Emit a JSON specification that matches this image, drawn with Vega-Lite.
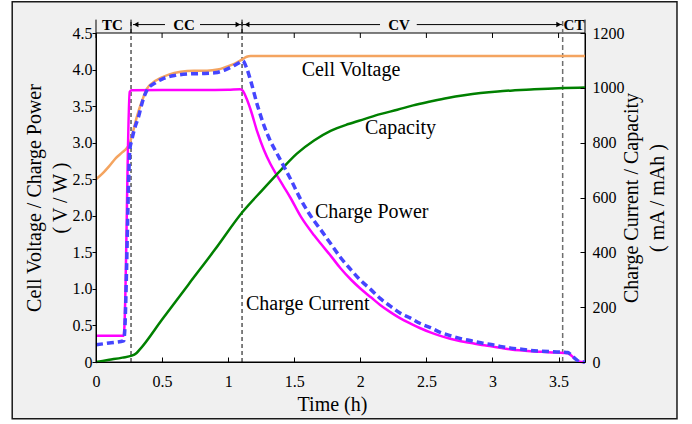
{
"$schema": "https://vega.github.io/schema/vega-lite/v6.json",
"width": 489, "height": 329,
"autosize": "none",
"padding": {"left": 96, "top": 33, "right": 107, "bottom": 62},
"background": "#ffffff",
"config": {
 "view": {"stroke": null},
 "font": "Liberation Serif",
 "axis": {"labelOverlap": false, "labelFont": "Liberation Serif", "titleFont": "Liberation Serif"},
 "style": {"guide-label": {"font": "Liberation Serif"}, "guide-title": {"font": "Liberation Serif"}}
},
"datasets": {
 "voltage": [
  {"t":0,"v":2.50},{"t":0.05,"v":2.58},{"t":0.10,"v":2.68},{"t":0.15,"v":2.79},{"t":0.20,"v":2.87},{"t":0.235,"v":2.93},{"t":0.255,"v":2.99},{"t":0.27,"v":3.08},{"t":0.29,"v":3.22},{"t":0.31,"v":3.36},{"t":0.35,"v":3.58},{"t":0.386,"v":3.74},{"t":0.43,"v":3.82},{"t":0.49,"v":3.885},{"t":0.55,"v":3.93},{"t":0.64,"v":3.97},{"t":0.74,"v":3.985},{"t":0.84,"v":3.985},{"t":0.92,"v":4.0},{"t":0.99,"v":4.04},{"t":1.05,"v":4.08},{"t":1.106,"v":4.14},{"t":1.14,"v":4.175},{"t":1.17,"v":4.185},{"t":2.0,"v":4.185},{"t":3.7,"v":4.185}
 ],
 "power": [
  {"t":0,"v":0.235},{"t":0.1,"v":0.26},{"t":0.21,"v":0.29},{"t":0.215,"v":0.36},{"t":0.257,"v":2.92},{"t":0.27,"v":3.03},{"t":0.29,"v":3.18},{"t":0.323,"v":3.36},{"t":0.35,"v":3.55},{"t":0.386,"v":3.72},{"t":0.45,"v":3.82},{"t":0.5,"v":3.87},{"t":0.6,"v":3.92},{"t":0.7,"v":3.94},{"t":0.8,"v":3.945},{"t":0.9,"v":3.955},{"t":0.97,"v":3.99},{"t":1.03,"v":4.04},{"t":1.08,"v":4.09},{"t":1.11,"v":4.12},{"t":1.14,"v":4.02},{"t":1.17,"v":3.85},{"t":1.22,"v":3.52},{"t":1.27,"v":3.24},{"t":1.32,"v":3.02},{"t":1.37,"v":2.85},{"t":1.42,"v":2.68},{"t":1.47,"v":2.51},{"t":1.55,"v":2.22},{"t":1.65,"v":1.93},{"t":1.70,"v":1.81},{"t":1.775,"v":1.62},{"t":1.85,"v":1.43},{"t":1.93,"v":1.26},{"t":2.0,"v":1.12},{"t":2.08,"v":0.99},{"t":2.15,"v":0.87},{"t":2.23,"v":0.76},{"t":2.3,"v":0.67},{"t":2.38,"v":0.60},{"t":2.45,"v":0.53},{"t":2.53,"v":0.47},{"t":2.6,"v":0.41},{"t":2.68,"v":0.36},{"t":2.76,"v":0.32},{"t":2.84,"v":0.29},{"t":2.92,"v":0.26},{"t":2.99,"v":0.24},{"t":3.07,"v":0.21},{"t":3.14,"v":0.19},{"t":3.22,"v":0.175},{"t":3.29,"v":0.158},{"t":3.37,"v":0.148},{"t":3.45,"v":0.14},{"t":3.54,"v":0.135},{"t":3.57,"v":0.13},{"t":3.6,"v":0.09},{"t":3.63,"v":0.04},{"t":3.66,"v":0.005},{"t":3.7,"v":0}
 ],
 "current": [
  {"t":0,"v":96},{"t":0.21,"v":96},{"t":0.215,"v":130},{"t":0.255,"v":985},{"t":0.27,"v":991},{"t":0.5,"v":992},{"t":0.8,"v":992},{"t":1.0,"v":993},{"t":1.09,"v":995},{"t":1.11,"v":990},{"t":1.14,"v":960},{"t":1.17,"v":920},{"t":1.22,"v":840},{"t":1.27,"v":774},{"t":1.32,"v":722},{"t":1.37,"v":680},{"t":1.42,"v":640},{"t":1.47,"v":600},{"t":1.55,"v":530},{"t":1.65,"v":462},{"t":1.70,"v":432},{"t":1.775,"v":388},{"t":1.85,"v":342},{"t":1.93,"v":300},{"t":2.0,"v":268},{"t":2.08,"v":236},{"t":2.15,"v":208},{"t":2.23,"v":181},{"t":2.3,"v":160},{"t":2.38,"v":140},{"t":2.45,"v":124},{"t":2.53,"v":108},{"t":2.6,"v":96},{"t":2.68,"v":85},{"t":2.76,"v":76},{"t":2.84,"v":69},{"t":2.92,"v":62},{"t":2.99,"v":57},{"t":3.07,"v":51},{"t":3.14,"v":46},{"t":3.22,"v":42},{"t":3.29,"v":39},{"t":3.37,"v":37},{"t":3.45,"v":35},{"t":3.54,"v":33},{"t":3.57,"v":32},{"t":3.6,"v":22},{"t":3.63,"v":10},{"t":3.66,"v":1},{"t":3.7,"v":0}
 ],
 "capacity": [
  {"t":0,"v":0},{"t":0.1,"v":8},{"t":0.2,"v":16},{"t":0.27,"v":23},{"t":0.3,"v":30},{"t":0.33,"v":45},{"t":0.5,"v":155},{"t":0.7,"v":283},{"t":0.9,"v":410},{"t":1.11,"v":548},{"t":1.26,"v":628},{"t":1.4,"v":701},{"t":1.52,"v":760},{"t":1.65,"v":808},{"t":1.775,"v":843},{"t":1.91,"v":868},{"t":2.03,"v":886},{"t":2.15,"v":904},{"t":2.28,"v":920},{"t":2.4,"v":936},{"t":2.53,"v":950},{"t":2.66,"v":963},{"t":2.785,"v":973},{"t":2.91,"v":981},{"t":3.04,"v":987},{"t":3.17,"v":991},{"t":3.29,"v":994},{"t":3.42,"v":997},{"t":3.54,"v":999},{"t":3.7,"v":1001}
 ],
 "boundaries": [{"t":0},{"t":0.265},{"t":1.105},{"t":3.7}],
 "topticks": [{"t":0},{"t":0.5},{"t":1},{"t":1.5},{"t":2},{"t":2.5},{"t":3},{"t":3.5}],
 "phases": [{"phase":"TC","t":0.125},{"phase":"CC","t":0.666},{"phase":"CV","t":2.293},{"phase":"CT","t":3.617}],
 "labels": [
  {"label":"Cell Voltage","t":1.556,"v":3.917},
  {"label":"Capacity","t":2.035,"v":3.123},
  {"label":"Charge Power","t":1.657,"v":1.97},
  {"label":"Charge Current","t":1.135,"v":0.715}
 ]
},
"resolve": {"scale": {"y": "independent"}},
"layer": [
 {"layer": [
  {"data": {"values": [{}]},
   "mark": {"type": "rect", "fill": "#f0f0f0", "stroke": "#1a1a1a", "strokeWidth": 1.5},
   "encoding": {
    "x": {"datum": -0.634, "type": "quantitative", "scale": {"domain": [0, 3.7], "nice": false, "zero": false},
      "axis": {"zindex": 2, "orient": "bottom", "grid": false, "values": [0,0.5,1,1.5,2,2.5,3,3.5], "format": "~g", "labelOverlap": false, "labelFlush": false, "labelFont": "Liberation Serif", "labelFontSize": 16, "labelColor": "#000", "tickColor": "#000", "domainColor": "#000", "tickSize": -5, "labelPadding": 16, "title": "Time (h)", "titleFont": "Liberation Serif", "titleFontSize": 20, "titleFontWeight": "normal", "titleColor": "#000", "titleX": 236, "titleY": 48, "titleBaseline": "alphabetic", "titleAlign": "center"}},
    "x2": {"datum": 4.396},
    "y": {"datum": -0.776, "type": "quantitative", "scale": {"domain": [0, 4.5], "nice": false, "zero": false}},
    "y2": {"datum": 4.929}
   }},
  {"data": {"values": [{}]},
   "mark": {"type": "rect", "fill": "#ffffff", "stroke": "#000", "strokeWidth": 1},
   "encoding": {"x": {"datum": 0, "type": "quantitative"}, "x2": {"datum": 3.7}, "y": {"datum": 0, "type": "quantitative"}, "y2": {"datum": 4.5}}},
  {"data": {"name": "topticks"},
   "mark": {"type": "rule", "color": "#000", "strokeWidth": 1},
   "encoding": {"x": {"field": "t", "type": "quantitative"}, "y": {"datum": 4.5, "type": "quantitative"}, "y2": {"datum": 4.432}}},
  {"data": {"name": "boundaries"},
   "mark": {"type": "rule", "color": "#000", "strokeWidth": 1},
   "encoding": {"x": {"field": "t", "type": "quantitative"}, "y": {"datum": 4.5, "type": "quantitative"}, "y2": {"datum": 4.683}}},
  {"data": {"values": [{"t": 0.265}, {"t": 1.105}]},
   "mark": {"type": "rule", "color": "#000", "strokeWidth": 1, "strokeDash": [4, 3]},
   "encoding": {"x": {"field": "t", "type": "quantitative"}, "y": {"datum": 0, "type": "quantitative"}, "y2": {"datum": 4.683}}},
  {"data": {"values": [{"t": 3.531}]},
   "mark": {"type": "rule", "color": "#6e6e6e", "strokeWidth": 1.5, "strokeDash": [5, 3]},
   "encoding": {"x": {"field": "t", "type": "quantitative"}, "y": {"datum": 0, "type": "quantitative"}, "y2": {"datum": 4.683}}},
  {"data": {"values": [{"a": 0.28, "b": 0.522}, {"a": 0.787, "b": 1.1}, {"a": 1.11, "b": 2.149}, {"a": 2.427, "b": 3.525}]},
   "mark": {"type": "rule", "color": "#000", "strokeWidth": 1},
   "encoding": {"x": {"field": "a", "type": "quantitative"}, "x2": {"field": "b"}, "y": {"datum": 4.615, "type": "quantitative"}}},
  {"data": {"values": [{"t": 0.303}, {"t": 1.143}]},
   "mark": {"type": "point", "shape": "triangle-left", "filled": true, "color": "#000", "size": 30, "opacity": 1},
   "encoding": {"x": {"field": "t", "type": "quantitative"}, "y": {"datum": 4.615, "type": "quantitative"}}},
  {"data": {"values": [{"t": 1.074}, {"t": 3.501}]},
   "mark": {"type": "point", "shape": "triangle-right", "filled": true, "color": "#000", "size": 30, "opacity": 1},
   "encoding": {"x": {"field": "t", "type": "quantitative"}, "y": {"datum": 4.615, "type": "quantitative"}}},
  {"data": {"name": "phases"},
   "mark": {"type": "text", "font": "Liberation Serif", "fontSize": 15, "fontWeight": "bold", "color": "#000", "baseline": "middle", "align": "center"},
   "encoding": {"x": {"field": "t", "type": "quantitative"}, "y": {"datum": 4.615, "type": "quantitative"}, "text": {"field": "phase"}}},
  {"data": {"name": "voltage"},
   "mark": {"type": "line", "color": "#f4a460", "strokeWidth": 2.5, "interpolate": "monotone"},
   "encoding": {"x": {"field": "t", "type": "quantitative"},
    "y": {"field": "v", "type": "quantitative",
      "axis": {"zindex": 2, "orient": "left", "grid": false, "values": [0,0.5,1,1.5,2,2.5,3,3.5,4,4.5], "tickCount": 10, "format": ".1f", "labelExpr": "datum.value == 0 ? '0' : datum.label", "labelOverlap": false, "labelSeparation": 0, "labelBound": false, "labelFlush": false, "labelFont": "Liberation Serif", "labelFontSize": 16, "labelColor": "#000", "tickColor": "#000", "domainColor": "#000", "tickSize": 4, "labelPadding": 0, "title": ["Cell Voltage / Charge Power", "( V / W )"], "titleFont": "Liberation Serif", "titleFontSize": 20, "titleFontWeight": "normal", "titleColor": "#000", "titleX": -56, "titleY": 164.5, "titleAngle": -90, "titleBaseline": "alphabetic", "titleAlign": "center", "titleLineHeight": 26}}}}
 ]},
 {"layer": [
  {"data": {"name": "current"},
   "mark": {"type": "line", "color": "#ff00ff", "strokeWidth": 2.5, "interpolate": "monotone"},
   "encoding": {
    "x": {"field": "t", "type": "quantitative"},
    "y": {"field": "v", "type": "quantitative", "scale": {"domain": [0, 1200], "nice": false, "zero": false},
      "axis": {"zindex": 2, "orient": "right", "grid": false, "values": [0,100,200,300,400,500,600,700,800,900,1000,1100,1200], "labelExpr": "datum.value % 200 == 0 ? format(datum.value, 'd') : ''", "labelOverlap": false, "labelFlush": false, "labelFont": "Liberation Serif", "labelFontSize": 16, "labelColor": "#000", "tickColor": "#000", "domainColor": "#000", "tickSize": -5, "labelPadding": 12, "title": ["Charge Current / Capacity", "( mA / mAh )"], "titleFont": "Liberation Serif", "titleFontSize": 20, "titleFontWeight": "normal", "titleColor": "#000", "titleAngle": -90, "titleX": 52, "titleY": 164.5, "titleBaseline": "alphabetic", "titleAlign": "center", "titleLineHeight": 26}}
   }},
  {"data": {"name": "capacity"},
   "mark": {"type": "line", "color": "#008000", "strokeWidth": 2.5, "interpolate": "monotone"},
   "encoding": {"x": {"field": "t", "type": "quantitative"}, "y": {"field": "v", "type": "quantitative"}}}
 ]},
 {"layer": [
  {"data": {"name": "power"},
   "mark": {"type": "line", "color": "#4545ff", "strokeWidth": 3.5, "strokeDash": [7, 4], "interpolate": "monotone"},
   "encoding": {
    "x": {"field": "t", "type": "quantitative"},
    "y": {"field": "v", "type": "quantitative", "scale": {"domain": [0, 4.5], "nice": false, "zero": false}, "axis": null}
   }},
  {"data": {"name": "labels"},
   "mark": {"type": "text", "font": "Liberation Serif", "fontSize": 20, "color": "#000", "align": "left", "baseline": "alphabetic"},
   "encoding": {"x": {"field": "t", "type": "quantitative"}, "y": {"field": "v", "type": "quantitative", "axis": null}, "text": {"field": "label"}}}
 ]}
]
}
